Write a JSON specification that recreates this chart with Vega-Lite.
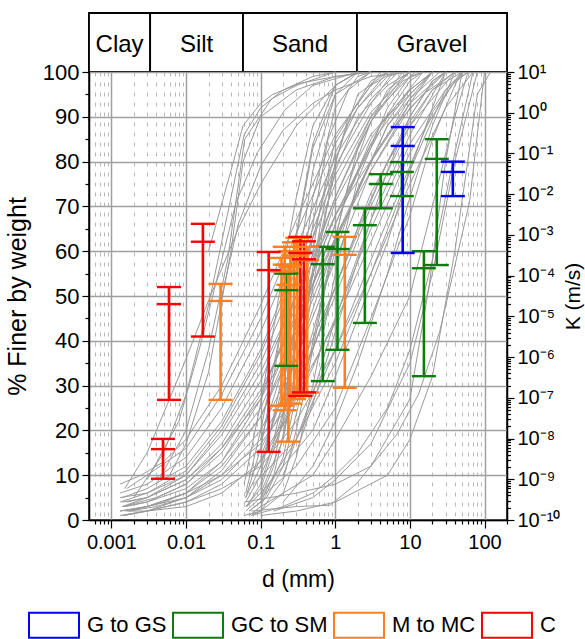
{
"$schema": "https://vega.github.io/schema/vega-lite/v6.json",
"padding": {"left": 4, "top": 11, "right": 5, "bottom": 5},
"bounds": "flush",
"config": {
  "font": "Liberation Sans",
  "view": {"stroke": "black", "strokeWidth": 1.5},
  "axis": {"domainColor": "black", "domainWidth": 1.5, "tickColor": "black", "tickWidth": 1.2, "labelColor": "black", "titleColor": "black", "titleFontWeight": "normal", "labelFont": "Liberation Sans", "titleFont": "Liberation Sans"}
},
"datasets": {
  "bars": [
    {"cls":"GC to SM","d":0.22,"top":1.12e-4,"mid":4.4e-5,"low":6.1e-7},
    {"cls":"GC to SM","d":0.68,"top":5.1e-4,"mid":1.91e-4,"low":2.57e-7},
    {"cls":"GC to SM","d":1.07,"top":1.18e-3,"mid":4.5e-4,"low":1.51e-6},
    {"cls":"GC to SM","d":2.49,"top":4.5e-3,"mid":1.73e-3,"low":6.9e-6},
    {"cls":"GC to SM","d":4.07,"top":3.1e-2,"mid":1.78e-2,"low":4.5e-3},
    {"cls":"GC to SM","d":7.8,"top":6.15e-2,"mid":3.52e-2,"low":8.97e-3},
    {"cls":"GC to SM","d":15.4,"top":3.98e-4,"mid":1.52e-4,"low":3.4e-7},
    {"cls":"GC to SM","d":22.9,"top":0.224,"mid":7.35e-2,"low":1.82e-4},
    {"cls":"M to MC","d":0.029,"top":6.27e-5,"mid":2.39e-5,"low":8.9e-8},
    {"cls":"M to MC","d":0.19,"top":2.72e-4,"mid":1.27e-4,"low":6.4e-8},
    {"cls":"M to MC","d":0.21,"top":5.1e-4,"mid":1.86e-4,"low":4.95e-8},
    {"cls":"M to MC","d":0.235,"top":1.86e-4,"mid":5.96e-5,"low":8.4e-9},
    {"cls":"M to MC","d":0.25,"top":3.98e-4,"mid":1.64e-4,"low":7.2e-8},
    {"cls":"M to MC","d":0.28,"top":6.6e-4,"mid":3.1e-4,"low":9.3e-8},
    {"cls":"M to MC","d":0.31,"top":8.5e-4,"mid":3.98e-4,"low":1.2e-7},
    {"cls":"M to MC","d":0.42,"top":5.1e-4,"mid":2.4e-4,"low":1.36e-7},
    {"cls":"M to MC","d":1.34,"top":8.95e-4,"mid":3.25e-4,"low":1.76e-7},
    {"cls":"C","d":0.0049,"top":9.8e-9,"mid":5.5e-9,"low":1.03e-9},
    {"cls":"C","d":0.0059,"top":5.25e-5,"mid":2.0e-5,"low":8.9e-8},
    {"cls":"C","d":0.0168,"top":1.87e-3,"mid":6.8e-4,"low":3.2e-6},
    {"cls":"C","d":0.128,"top":3.8e-4,"mid":1.37e-4,"low":4.7e-9},
    {"cls":"C","d":0.34,"top":8.95e-4,"mid":3.6e-4,"low":1.11e-7},
    {"cls":"C","d":0.38,"top":6.95e-4,"mid":2.52e-4,"low":1.36e-7},
    {"cls":"G to GS","d":8.0,"top":0.444,"mid":0.153,"low":3.6e-4},
    {"cls":"G to GS","d":37.6,"top":6.3e-2,"mid":3.52e-2,"low":8.97e-3}
  ],
  "curves": [
    {"c":"A1","d":0.0013,"p":2},{"c":"A1","d":0.003,"p":3},{"c":"A1","d":0.01,"p":5},{"c":"A1","d":0.03,"p":10},{"c":"A1","d":0.1,"p":20},{"c":"A1","d":0.3,"p":36},{"c":"A1","d":1,"p":58},{"c":"A1","d":3,"p":78},{"c":"A1","d":10,"p":93},{"c":"A1","d":30,"p":100},
    {"c":"A2","d":0.0015,"p":3},{"c":"A2","d":0.003,"p":4},{"c":"A2","d":0.01,"p":7},{"c":"A2","d":0.03,"p":13},{"c":"A2","d":0.1,"p":25},{"c":"A2","d":0.3,"p":43},{"c":"A2","d":1,"p":66},{"c":"A2","d":3,"p":84},{"c":"A2","d":10,"p":96},{"c":"A2","d":20,"p":100},
    {"c":"A3","d":0.0014,"p":1},{"c":"A3","d":0.003,"p":2},{"c":"A3","d":0.01,"p":4},{"c":"A3","d":0.03,"p":8},{"c":"A3","d":0.1,"p":16},{"c":"A3","d":0.3,"p":30},{"c":"A3","d":1,"p":50},{"c":"A3","d":3,"p":70},{"c":"A3","d":10,"p":88},{"c":"A3","d":40,"p":100},
    {"c":"A4","d":0.0016,"p":4},{"c":"A4","d":0.003,"p":5},{"c":"A4","d":0.01,"p":9},{"c":"A4","d":0.03,"p":17},{"c":"A4","d":0.1,"p":31},{"c":"A4","d":0.3,"p":50},{"c":"A4","d":1,"p":72},{"c":"A4","d":3,"p":89},{"c":"A4","d":8,"p":98},{"c":"A4","d":15,"p":100},
    {"c":"A5","d":0.0013,"p":5},{"c":"A5","d":0.003,"p":6},{"c":"A5","d":0.01,"p":11},{"c":"A5","d":0.03,"p":21},{"c":"A5","d":0.1,"p":37},{"c":"A5","d":0.3,"p":56},{"c":"A5","d":1,"p":77},{"c":"A5","d":3,"p":91},{"c":"A5","d":10,"p":100},
    {"c":"A6","d":0.0017,"p":2},{"c":"A6","d":0.004,"p":3},{"c":"A6","d":0.01,"p":5},{"c":"A6","d":0.03,"p":9},{"c":"A6","d":0.1,"p":18},{"c":"A6","d":0.3,"p":32},{"c":"A6","d":1,"p":52},{"c":"A6","d":5,"p":80},{"c":"A6","d":20,"p":96},{"c":"A6","d":50,"p":100},
    {"c":"A7","d":0.0013,"p":6},{"c":"A7","d":0.003,"p":8},{"c":"A7","d":0.01,"p":14},{"c":"A7","d":0.03,"p":25},{"c":"A7","d":0.1,"p":42},{"c":"A7","d":0.3,"p":61},{"c":"A7","d":1,"p":81},{"c":"A7","d":3,"p":94},{"c":"A7","d":7,"p":100},
    {"c":"A8","d":0.0015,"p":3},{"c":"A8","d":0.003,"p":4},{"c":"A8","d":0.01,"p":8},{"c":"A8","d":0.03,"p":15},{"c":"A8","d":0.1,"p":28},{"c":"A8","d":0.3,"p":46},{"c":"A8","d":1,"p":68},{"c":"A8","d":4,"p":88},{"c":"A8","d":15,"p":100},
    {"c":"A9","d":0.0013,"p":1},{"c":"A9","d":0.003,"p":2},{"c":"A9","d":0.01,"p":3},{"c":"A9","d":0.03,"p":6},{"c":"A9","d":0.1,"p":13},{"c":"A9","d":0.3,"p":26},{"c":"A9","d":1,"p":45},{"c":"A9","d":3,"p":65},{"c":"A9","d":10,"p":84},{"c":"A9","d":30,"p":96},{"c":"A9","d":60,"p":100},
    {"c":"A10","d":0.0016,"p":7},{"c":"A10","d":0.003,"p":10},{"c":"A10","d":0.01,"p":16},{"c":"A10","d":0.03,"p":28},{"c":"A10","d":0.1,"p":45},{"c":"A10","d":0.3,"p":64},{"c":"A10","d":1,"p":84},{"c":"A10","d":2,"p":92},{"c":"A10","d":5,"p":100},
    {"c":"A11","d":0.0013,"p":2},{"c":"A11","d":0.003,"p":3},{"c":"A11","d":0.01,"p":6},{"c":"A11","d":0.03,"p":12},{"c":"A11","d":0.1,"p":23},{"c":"A11","d":0.3,"p":40},{"c":"A11","d":1,"p":62},{"c":"A11","d":5,"p":88},{"c":"A11","d":20,"p":100},
    {"c":"A12","d":0.0014,"p":4},{"c":"A12","d":0.003,"p":5},{"c":"A12","d":0.01,"p":9},{"c":"A12","d":0.03,"p":16},{"c":"A12","d":0.1,"p":27},{"c":"A12","d":0.3,"p":42},{"c":"A12","d":1,"p":63},{"c":"A12","d":3,"p":80},{"c":"A12","d":10,"p":94},{"c":"A12","d":25,"p":100},
    {"c":"A13","d":0.0015,"p":2},{"c":"A13","d":0.003,"p":3},{"c":"A13","d":0.01,"p":6},{"c":"A13","d":0.03,"p":13},{"c":"A13","d":0.1,"p":27},{"c":"A13","d":0.3,"p":48},{"c":"A13","d":1,"p":72},{"c":"A13","d":3,"p":90},{"c":"A13","d":8,"p":100},
    {"c":"A14","d":0.0014,"p":3},{"c":"A14","d":0.003,"p":5},{"c":"A14","d":0.01,"p":10},{"c":"A14","d":0.03,"p":19},{"c":"A14","d":0.1,"p":33},{"c":"A14","d":0.3,"p":50},{"c":"A14","d":1,"p":68},{"c":"A14","d":5,"p":90},{"c":"A14","d":20,"p":100},
    {"c":"A15","d":0.0013,"p":8},{"c":"A15","d":0.0025,"p":10},{"c":"A15","d":0.005,"p":13},{"c":"A15","d":0.01,"p":18},{"c":"A15","d":0.03,"p":30},{"c":"A15","d":0.1,"p":48},{"c":"A15","d":0.3,"p":67},{"c":"A15","d":1,"p":86},{"c":"A15","d":3,"p":97},{"c":"A15","d":6,"p":100},
    {"c":"A16","d":0.0015,"p":7},{"c":"A16","d":0.003,"p":15},{"c":"A16","d":0.006,"p":27},{"c":"A16","d":0.01,"p":36},{"c":"A16","d":0.02,"p":49},{"c":"A16","d":0.05,"p":65},{"c":"A16","d":0.1,"p":75},{"c":"A16","d":0.3,"p":88},{"c":"A16","d":1,"p":97},{"c":"A16","d":2,"p":100},
    {"c":"A17","d":0.0016,"p":2},{"c":"A17","d":0.003,"p":2},{"c":"A17","d":0.01,"p":4},{"c":"A17","d":0.03,"p":7},{"c":"A17","d":0.1,"p":12},{"c":"A17","d":0.3,"p":22},{"c":"A17","d":1,"p":38},{"c":"A17","d":3,"p":55},{"c":"A17","d":10,"p":75},{"c":"A17","d":30,"p":92},{"c":"A17","d":70,"p":100},
    {"c":"A18","d":0.0014,"p":5},{"c":"A18","d":0.003,"p":7},{"c":"A18","d":0.01,"p":12},{"c":"A18","d":0.03,"p":22},{"c":"A18","d":0.1,"p":38},{"c":"A18","d":0.3,"p":58},{"c":"A18","d":1,"p":79},{"c":"A18","d":3,"p":93},{"c":"A18","d":6,"p":100},
    {"c":"A19","d":0.0015,"p":1},{"c":"A19","d":0.003,"p":2},{"c":"A19","d":0.01,"p":5},{"c":"A19","d":0.03,"p":11},{"c":"A19","d":0.1,"p":23},{"c":"A19","d":0.3,"p":42},{"c":"A19","d":1,"p":66},{"c":"A19","d":3,"p":85},{"c":"A19","d":10,"p":98},{"c":"A19","d":15,"p":100},
    {"c":"A20","d":0.0014,"p":3},{"c":"A20","d":0.004,"p":5},{"c":"A20","d":0.01,"p":8},{"c":"A20","d":0.03,"p":16},{"c":"A20","d":0.1,"p":29},{"c":"A20","d":0.3,"p":45},{"c":"A20","d":1,"p":63},{"c":"A20","d":3,"p":78},{"c":"A20","d":10,"p":92},{"c":"A20","d":30,"p":100},
    {"c":"A21","d":0.0018,"p":2},{"c":"A21","d":0.005,"p":4},{"c":"A21","d":0.01,"p":6},{"c":"A21","d":0.03,"p":10},{"c":"A21","d":0.1,"p":17},{"c":"A21","d":0.3,"p":28},{"c":"A21","d":1,"p":44},{"c":"A21","d":3,"p":62},{"c":"A21","d":10,"p":82},{"c":"A21","d":40,"p":98},{"c":"A21","d":60,"p":100},
    {"c":"A22","d":0.0013,"p":4},{"c":"A22","d":0.003,"p":6},{"c":"A22","d":0.01,"p":10},{"c":"A22","d":0.03,"p":20},{"c":"A22","d":0.1,"p":35},{"c":"A22","d":0.3,"p":54},{"c":"A22","d":1,"p":75},{"c":"A22","d":3,"p":90},{"c":"A22","d":10,"p":99},{"c":"A22","d":12,"p":100},
    {"c":"B1","d":0.002,"p":5},{"c":"B1","d":0.005,"p":15},{"c":"B1","d":0.01,"p":28},{"c":"B1","d":0.02,"p":48},{"c":"B1","d":0.04,"p":72},{"c":"B1","d":0.06,"p":86},{"c":"B1","d":0.1,"p":92},{"c":"B1","d":0.2,"p":96},{"c":"B1","d":0.5,"p":99},{"c":"B1","d":1,"p":100},
    {"c":"B2","d":0.004,"p":8},{"c":"B2","d":0.01,"p":20},{"c":"B2","d":0.02,"p":38},{"c":"B2","d":0.036,"p":58},{"c":"B2","d":0.061,"p":85},{"c":"B2","d":0.14,"p":94},{"c":"B2","d":0.3,"p":97},{"c":"B2","d":1,"p":100},
    {"c":"B3","d":0.003,"p":9},{"c":"B3","d":0.008,"p":22},{"c":"B3","d":0.015,"p":38},{"c":"B3","d":0.03,"p":58},{"c":"B3","d":0.047,"p":71},{"c":"B3","d":0.09,"p":82},{"c":"B3","d":0.21,"p":91.5},{"c":"B3","d":0.5,"p":97},{"c":"B3","d":2,"p":100},
    {"c":"B4","d":0.006,"p":10},{"c":"B4","d":0.01,"p":17},{"c":"B4","d":0.02,"p":33},{"c":"B4","d":0.04,"p":60},{"c":"B4","d":0.058,"p":80},{"c":"B4","d":0.1,"p":90},{"c":"B4","d":0.3,"p":96},{"c":"B4","d":1,"p":99},{"c":"B4","d":3,"p":100},
    {"c":"F1","d":0.02,"p":60},{"c":"F1","d":0.04,"p":78},{"c":"F1","d":0.058,"p":88},{"c":"F1","d":0.1,"p":93},{"c":"F1","d":0.145,"p":95},{"c":"F1","d":0.34,"p":97.5},{"c":"F1","d":1,"p":99},{"c":"F1","d":3,"p":100},
    {"c":"F2","d":0.03,"p":50},{"c":"F2","d":0.05,"p":66},{"c":"F2","d":0.1,"p":79},{"c":"F2","d":0.2,"p":87},{"c":"F2","d":0.5,"p":93},{"c":"F2","d":1,"p":96},{"c":"F2","d":3,"p":99},{"c":"F2","d":10,"p":100},
    {"c":"C1","d":0.063,"p":2},{"c":"C1","d":0.1,"p":5},{"c":"C1","d":0.15,"p":12},{"c":"C1","d":0.2,"p":24},{"c":"C1","d":0.3,"p":45},{"c":"C1","d":0.5,"p":72},{"c":"C1","d":1,"p":92},{"c":"C1","d":2,"p":99},{"c":"C1","d":3,"p":100},
    {"c":"C2","d":0.063,"p":4},{"c":"C2","d":0.1,"p":10},{"c":"C2","d":0.2,"p":33},{"c":"C2","d":0.3,"p":54},{"c":"C2","d":0.5,"p":78},{"c":"C2","d":1,"p":95},{"c":"C2","d":2,"p":100},
    {"c":"C3","d":0.07,"p":1},{"c":"C3","d":0.1,"p":3},{"c":"C3","d":0.2,"p":14},{"c":"C3","d":0.3,"p":28},{"c":"C3","d":0.5,"p":52},{"c":"C3","d":1,"p":80},{"c":"C3","d":2,"p":95},{"c":"C3","d":5,"p":100},
    {"c":"C4","d":0.063,"p":5},{"c":"C4","d":0.1,"p":16},{"c":"C4","d":0.15,"p":32},{"c":"C4","d":0.2,"p":46},{"c":"C4","d":0.3,"p":64},{"c":"C4","d":0.5,"p":84},{"c":"C4","d":1,"p":97},{"c":"C4","d":2,"p":100},
    {"c":"C5","d":0.065,"p":3},{"c":"C5","d":0.1,"p":8},{"c":"C5","d":0.2,"p":24},{"c":"C5","d":0.4,"p":50},{"c":"C5","d":0.6,"p":68},{"c":"C5","d":1,"p":85},{"c":"C5","d":3,"p":98},{"c":"C5","d":5,"p":100},
    {"c":"C6","d":0.07,"p":2},{"c":"C6","d":0.1,"p":4},{"c":"C6","d":0.15,"p":10},{"c":"C6","d":0.25,"p":26},{"c":"C6","d":0.4,"p":47},{"c":"C6","d":0.7,"p":70},{"c":"C6","d":1.5,"p":90},{"c":"C6","d":4,"p":100},
    {"c":"C7","d":0.063,"p":6},{"c":"C7","d":0.1,"p":20},{"c":"C7","d":0.2,"p":45},{"c":"C7","d":0.3,"p":63},{"c":"C7","d":0.5,"p":83},{"c":"C7","d":1,"p":95},{"c":"C7","d":3,"p":100},
    {"c":"C8","d":0.06,"p":1},{"c":"C8","d":0.1,"p":2},{"c":"C8","d":0.2,"p":9},{"c":"C8","d":0.3,"p":20},{"c":"C8","d":0.5,"p":38},{"c":"C8","d":1,"p":63},{"c":"C8","d":2,"p":83},{"c":"C8","d":5,"p":96},{"c":"C8","d":10,"p":100},
    {"c":"C9","d":0.063,"p":5},{"c":"C9","d":0.1,"p":12},{"c":"C9","d":0.2,"p":30},{"c":"C9","d":0.3,"p":45},{"c":"C9","d":0.5,"p":63},{"c":"C9","d":1,"p":82},{"c":"C9","d":2,"p":92},{"c":"C9","d":5,"p":99},{"c":"C9","d":8,"p":100},
    {"c":"C10","d":0.065,"p":3},{"c":"C10","d":0.1,"p":6},{"c":"C10","d":0.2,"p":18},{"c":"C10","d":0.3,"p":34},{"c":"C10","d":0.6,"p":62},{"c":"C10","d":1,"p":78},{"c":"C10","d":2,"p":90},{"c":"C10","d":5,"p":97},{"c":"C10","d":10,"p":100},
    {"c":"C11","d":0.06,"p":8},{"c":"C11","d":0.1,"p":26},{"c":"C11","d":0.15,"p":43},{"c":"C11","d":0.2,"p":56},{"c":"C11","d":0.3,"p":72},{"c":"C11","d":0.5,"p":88},{"c":"C11","d":1,"p":97},{"c":"C11","d":2,"p":100},
    {"c":"C12","d":0.07,"p":2},{"c":"C12","d":0.12,"p":5},{"c":"C12","d":0.2,"p":12},{"c":"C12","d":0.4,"p":32},{"c":"C12","d":0.8,"p":56},{"c":"C12","d":1.5,"p":75},{"c":"C12","d":3,"p":89},{"c":"C12","d":8,"p":99},{"c":"C12","d":10,"p":100},
    {"c":"C13","d":0.075,"p":1},{"c":"C13","d":0.1,"p":2},{"c":"C13","d":0.2,"p":6},{"c":"C13","d":0.3,"p":14},{"c":"C13","d":0.5,"p":30},{"c":"C13","d":1,"p":55},{"c":"C13","d":2,"p":76},{"c":"C13","d":5,"p":92},{"c":"C13","d":10,"p":99},{"c":"C13","d":15,"p":100},
    {"c":"C14","d":0.063,"p":3},{"c":"C14","d":0.1,"p":7},{"c":"C14","d":0.2,"p":22},{"c":"C14","d":0.3,"p":40},{"c":"C14","d":0.5,"p":66},{"c":"C14","d":0.8,"p":85},{"c":"C14","d":1.5,"p":96},{"c":"C14","d":3,"p":100},
    {"c":"E1","d":0.1,"p":10},{"c":"E1","d":0.3,"p":28},{"c":"E1","d":1,"p":52},{"c":"E1","d":3,"p":73},{"c":"E1","d":10,"p":89},{"c":"E1","d":20,"p":96},{"c":"E1","d":40,"p":100},
    {"c":"E2","d":0.1,"p":14},{"c":"E2","d":0.3,"p":36},{"c":"E2","d":1,"p":62},{"c":"E2","d":3,"p":80},{"c":"E2","d":10,"p":93},{"c":"E2","d":20,"p":100},
    {"c":"E3","d":0.2,"p":10},{"c":"E3","d":0.5,"p":28},{"c":"E3","d":1,"p":45},{"c":"E3","d":3,"p":67},{"c":"E3","d":10,"p":86},{"c":"E3","d":30,"p":100},
    {"c":"E4","d":0.1,"p":5},{"c":"E4","d":0.3,"p":18},{"c":"E4","d":1,"p":38},{"c":"E4","d":3,"p":58},{"c":"E4","d":10,"p":79},{"c":"E4","d":20,"p":91},{"c":"E4","d":50,"p":100},
    {"c":"E5","d":0.15,"p":18},{"c":"E5","d":0.3,"p":40},{"c":"E5","d":0.6,"p":60},{"c":"E5","d":1,"p":71},{"c":"E5","d":3,"p":86},{"c":"E5","d":10,"p":96},{"c":"E5","d":20,"p":100},
    {"c":"E6","d":0.1,"p":18},{"c":"E6","d":0.2,"p":34},{"c":"E6","d":0.5,"p":55},{"c":"E6","d":1,"p":68},{"c":"E6","d":5,"p":86},{"c":"E6","d":15,"p":95},{"c":"E6","d":40,"p":100},
    {"c":"E7","d":0.3,"p":15},{"c":"E7","d":0.6,"p":30},{"c":"E7","d":1,"p":42},{"c":"E7","d":2,"p":58},{"c":"E7","d":5,"p":78},{"c":"E7","d":10,"p":90},{"c":"E7","d":20,"p":98},{"c":"E7","d":30,"p":100},
    {"c":"E8","d":0.2,"p":20},{"c":"E8","d":0.5,"p":42},{"c":"E8","d":1,"p":60},{"c":"E8","d":2,"p":74},{"c":"E8","d":5,"p":88},{"c":"E8","d":10,"p":95},{"c":"E8","d":20,"p":100},
    {"c":"D1","d":0.075,"p":1},{"c":"D1","d":0.2,"p":3},{"c":"D1","d":0.5,"p":6},{"c":"D1","d":1,"p":10},{"c":"D1","d":2,"p":15},{"c":"D1","d":5,"p":25},{"c":"D1","d":10,"p":38},{"c":"D1","d":20,"p":58},{"c":"D1","d":40,"p":82},{"c":"D1","d":70,"p":100},
    {"c":"D2","d":0.075,"p":2},{"c":"D2","d":0.3,"p":3},{"c":"D2","d":0.85,"p":3.3},{"c":"D2","d":1.9,"p":8},{"c":"D2","d":6.6,"p":19},{"c":"D2","d":13,"p":28},{"c":"D2","d":25,"p":42},{"c":"D2","d":63,"p":71},{"c":"D2","d":100,"p":100},
    {"c":"D3","d":0.1,"p":3},{"c":"D3","d":0.5,"p":10},{"c":"D3","d":1,"p":18},{"c":"D3","d":3,"p":32},{"c":"D3","d":10,"p":50},{"c":"D3","d":20,"p":70},{"c":"D3","d":40,"p":90},{"c":"D3","d":60,"p":100},
    {"c":"D4","d":0.1,"p":5},{"c":"D4","d":0.3,"p":12},{"c":"D4","d":1,"p":25},{"c":"D4","d":3,"p":45},{"c":"D4","d":10,"p":68},{"c":"D4","d":20,"p":85},{"c":"D4","d":40,"p":97},{"c":"D4","d":50,"p":100},
    {"c":"D5","d":0.15,"p":2},{"c":"D5","d":0.5,"p":5},{"c":"D5","d":1,"p":9},{"c":"D5","d":3,"p":17},{"c":"D5","d":10,"p":35},{"c":"D5","d":20,"p":55},{"c":"D5","d":40,"p":80},{"c":"D5","d":80,"p":100},
    {"c":"D6","d":0.08,"p":8},{"c":"D6","d":0.3,"p":18},{"c":"D6","d":1,"p":35},{"c":"D6","d":3,"p":55},{"c":"D6","d":10,"p":78},{"c":"D6","d":30,"p":96},{"c":"D6","d":50,"p":100},
    {"c":"D7","d":0.1,"p":1},{"c":"D7","d":0.3,"p":2},{"c":"D7","d":1,"p":4},{"c":"D7","d":5,"p":10},{"c":"D7","d":10,"p":18},{"c":"D7","d":20,"p":32},{"c":"D7","d":40,"p":60},{"c":"D7","d":80,"p":95},{"c":"D7","d":120,"p":100},
    {"c":"D8","d":0.2,"p":4},{"c":"D8","d":0.5,"p":12},{"c":"D8","d":1,"p":22},{"c":"D8","d":2,"p":35},{"c":"D8","d":5,"p":55},{"c":"D8","d":10,"p":72},{"c":"D8","d":20,"p":88},{"c":"D8","d":40,"p":100},
    {"c":"D9","d":0.1,"p":6},{"c":"D9","d":0.5,"p":20},{"c":"D9","d":1,"p":32},{"c":"D9","d":5,"p":62},{"c":"D9","d":10,"p":78},{"c":"D9","d":20,"p":92},{"c":"D9","d":30,"p":100},
    {"c":"D10","d":0.075,"p":10},{"c":"D10","d":0.2,"p":22},{"c":"D10","d":0.5,"p":38},{"c":"D10","d":1,"p":52},{"c":"D10","d":2,"p":65},{"c":"D10","d":5,"p":80},{"c":"D10","d":10,"p":90},{"c":"D10","d":20,"p":98},{"c":"D10","d":30,"p":100},
    {"c":"D11","d":0.06,"p":4},{"c":"D11","d":0.3,"p":6},{"c":"D11","d":1,"p":8},{"c":"D11","d":3,"p":12},{"c":"D11","d":10,"p":27},{"c":"D11","d":18,"p":52},{"c":"D11","d":30,"p":80},{"c":"D11","d":50,"p":100}
  ]
},
"spacing": 0,
"resolve": {"scale": {"color": "independent"}},
"vconcat": [
  {
    "width": 418, "height": 59,
    "data": {"values": [
      {"cls":"Clay","lo":0.0005,"hi":0.0033},
      {"cls":"Silt","lo":0.0033,"hi":0.058},
      {"cls":"Sand","lo":0.058,"hi":1.95},
      {"cls":"Gravel","lo":1.95,"hi":200}
    ]},
    "transform": [{"calculate": "sqrt(datum.lo*datum.hi)", "as": "mid"}],
    "layer": [
      {"mark": {"type": "rect", "fill": "white", "stroke": "black", "strokeWidth": 1.8},
       "encoding": {
         "x": {"field": "lo", "type": "quantitative", "scale": {"type": "log", "domain": [0.0005, 200], "nice": false}, "axis": null},
         "x2": {"field": "hi"}
       }},
      {"mark": {"type": "text", "fontSize": 24, "font": "Liberation Sans", "baseline": "middle", "dy": 2},
       "encoding": {
         "x": {"field": "mid", "type": "quantitative", "scale": {"type": "log", "domain": [0.0005, 200], "nice": false}, "axis": null},
         "text": {"field": "cls"}
       }}
    ]
  },
  {
    "width": 418, "height": 448,
    "resolve": {"scale": {"y": "independent"}},
    "layer": [
      {
        "data": {"name": "curves"},
        "mark": {"type": "line", "color": "#9a9a9a", "strokeWidth": 1},
        "encoding": {
          "x": {"field": "d", "type": "quantitative",
                "scale": {"type": "log", "domain": [0.0005, 200], "nice": false},
                "axis": {
                  "title": "d (mm)", "titleFontSize": 23, "titlePadding": 16,
                  "values": [0.0006,0.0007,0.0008,0.0009,0.001,0.002,0.003,0.004,0.005,0.006,0.007,0.008,0.009,0.01,0.02,0.03,0.04,0.05,0.06,0.07,0.08,0.09,0.1,0.2,0.3,0.4,0.5,0.6,0.7,0.8,0.9,1,2,3,4,5,6,7,8,9,10,20,30,40,50,60,70,80,90,100,200],
                  "labelExpr": "abs(log(datum.value)/LN10 - round(log(datum.value)/LN10)) < 0.001 ? '' + datum.value : ''",
                  "labelOverlap": false, "labelFlush": false, "labelBound": false,
                  "labelFontSize": 20, "labelPadding": 4,
                  "grid": true,
                  "gridColor": {"condition": {"test": "abs(log(datum.value)/LN10 - round(log(datum.value)/LN10)) < 0.001", "value": "#a0a0a0"}, "value": "#b8b8b8"},
                  "gridDash": {"condition": {"test": "abs(log(datum.value)/LN10 - round(log(datum.value)/LN10)) < 0.001", "value": []}, "value": [4, 6]},
                  "gridWidth": {"condition": {"test": "abs(log(datum.value)/LN10 - round(log(datum.value)/LN10)) < 0.001", "value": 1.5}, "value": 1},
                  "tickSize": {"condition": {"test": "abs(log(datum.value)/LN10 - round(log(datum.value)/LN10)) < 0.001", "value": 8}, "value": 4}
                }},
          "y": {"field": "p", "type": "quantitative",
                "scale": {"domain": [0, 100], "nice": false},
                "axis": {
                  "title": "% Finer by weight", "titleFontSize": 25, "titlePadding": 12,
                  "values": [0,5,10,15,20,25,30,35,40,45,50,55,60,65,70,75,80,85,90,95,100],
                  "labelExpr": "datum.value % 10 == 0 ? datum.label : ''",
                  "labelFontSize": 22, "labelPadding": 3,
                  "grid": true, "gridColor": "#a0a0a0", "gridWidth": 1.5,
                  "gridOpacity": {"condition": {"test": "datum.value % 10 == 0", "value": 1}, "value": 0},
                  "tickSize": {"condition": {"test": "datum.value % 10 == 0", "value": 7}, "value": 4}
                }},
          "detail": {"field": "c"}
        }
      },
      {
        "data": {"name": "bars"},
        "layer": [
          {
            "mark": {"type": "rule", "strokeWidth": 2.6},
            "encoding": {
              "x": {"field": "d", "type": "quantitative", "title": "d (mm)"},
              "y": {"field": "low", "type": "quantitative",
                    "scale": {"type": "log", "domain": [1e-10, 10], "nice": false},
                    "title": "K (m/s)",
                    "axis": {
                      "orient": "right", "title": "K (m/s)", "titleFontSize": 21, "titleAngle": 270, "titleBaseline": "top", "titlePadding": 3,
                      "values": [1e-10,2e-10,3e-10,4e-10,5e-10,6e-10,7e-10,8e-10,9e-10,1e-9,2e-9,3e-9,4e-9,5e-9,6e-9,7e-9,8e-9,9e-9,1e-8,2e-8,3e-8,4e-8,5e-8,6e-8,7e-8,8e-8,9e-8,1e-7,2e-7,3e-7,4e-7,5e-7,6e-7,7e-7,8e-7,9e-7,1e-6,2e-6,3e-6,4e-6,5e-6,6e-6,7e-6,8e-6,9e-6,1e-5,2e-5,3e-5,4e-5,5e-5,6e-5,7e-5,8e-5,9e-5,1e-4,2e-4,3e-4,4e-4,5e-4,6e-4,7e-4,8e-4,9e-4,0.001,0.002,0.003,0.004,0.005,0.006,0.007,0.008,0.009,0.01,0.02,0.03,0.04,0.05,0.06,0.07,0.08,0.09,0.1,0.2,0.3,0.4,0.5,0.6,0.7,0.8,0.9,1,2,3,4,5,6,7,8,9,10],
                      "labelExpr": "abs(log(datum.value)/LN10 - round(log(datum.value)/LN10)) < 0.001 ? '10' + ['⁻¹⁰','⁻⁹','⁻⁸','⁻⁷','⁻⁶','⁻⁵','⁻⁴','⁻³','⁻²','⁻¹','⁰','¹'][round(log(datum.value)/LN10) + 10] : ''",
                      "labelOverlap": false, "labelFlush": false, "labelBound": false,
                      "labelFontSize": 20, "labelPadding": 3, "grid": false,
                      "tickSize": {"condition": {"test": "abs(log(datum.value)/LN10 - round(log(datum.value)/LN10)) < 0.001", "value": 7}, "value": 3.5}
                    }},
              "y2": {"field": "top"},
              "color": {"field": "cls", "type": "nominal",
                        "scale": {"domain": ["G to GS", "GC to SM", "M to MC", "C"], "range": ["#0000FF", "#0B7D0B", "#FF7F1E", "#FF0000"]},
                        "legend": {"orient": "none", "legendX": -61, "legendY": 527, "direction": "horizontal", "columns": 4, "title": null,
                                   "symbolType": "M-1,-0.5H1V0.5H-1Z", "symbolSize": 2500, "symbolStrokeWidth": 2, "symbolFillColor": "white",
                                   "labelFontSize": 22, "labelFont": "Liberation Sans", "labelColor": "black", "labelOffset": 7, "columnPadding": 2, "labelLimit": 300}}
            }
          },
          {
            "transform": [{"fold": ["top", "mid", "low"], "as": ["k", "val"]}],
            "mark": {"type": "rule", "strokeWidth": 2.4, "xOffset": -12, "x2Offset": 12},
            "encoding": {
              "x": {"field": "d", "type": "quantitative", "title": "d (mm)"},
              "x2": {"field": "d"},
              "y": {"field": "val", "type": "quantitative", "title": "K (m/s)"},
              "color": {"field": "cls", "type": "nominal"}
            }
          }
        ]
      }
    ]
  }
]
}
